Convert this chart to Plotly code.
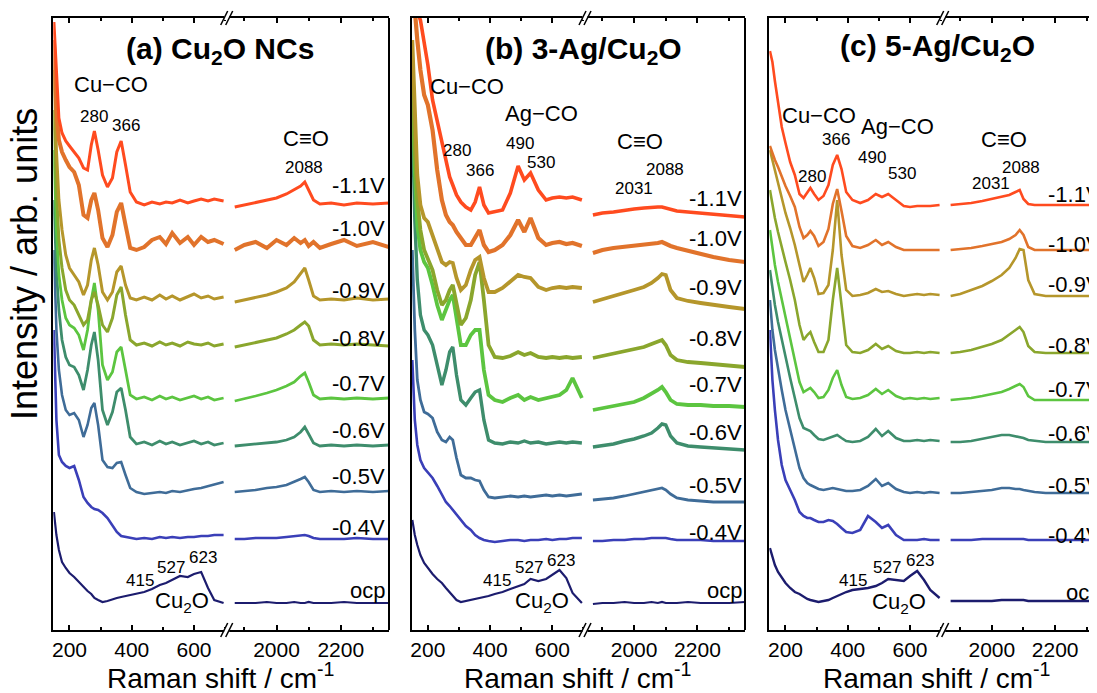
import plotly.graph_objects as go

# The page body has an 8 px margin, so the figure is offset by 8 px inside the 1097x693 window.
OFF = 8
W, H = 1097 - OFF, 693 - OFF

# ---------------- data (Raman shift in cm-1, intensity in arb. units incl. stacking offset) ----------------
X_LOW = [150, 158, 166, 176, 188, 200, 215, 230, 245, 258, 270, 280, 292, 306, 322, 338, 352,
         366, 380, 395, 415, 440, 465, 490, 510, 530, 555, 580, 600, 623, 645, 665, 695]
X_HIGH = [1870, 1900, 1935, 1970, 2000, 2031, 2055, 2075, 2088, 2100, 2115, 2135, 2170, 2210,
          2250, 2300, 2350]

POTENTIALS = ["ocp", "-0.4V", "-0.5V", "-0.6V", "-0.7V", "-0.8V", "-0.9V", "-1.0V", "-1.1V"]
COLORS = ["#1c1c6e", "#3a3fb8", "#3f6c98", "#3e8d6c", "#5cc540", "#8aa62d", "#b5962b",
          "#e1732b", "#ff4b1f"]

# (a) Cu2O NCs
CU2O_LOW = [
    [118, 95, 80, 68, 62, 57, 53, 48, 43, 39, 36, 32, 30, 28, 29, 31, 32, 33, 34, 35, 36, 38, 41, 45, 47, 50, 54, 53, 56, 58, 42, 30, 27],
    [300, 210, 175, 168, 164, 162, 164, 150, 133, 127, 123, 121, 120, 117, 112, 105, 98, 94, 93, 92, 91, 92, 91, 93, 92, 93, 92, 93, 93, 94, 94, 95, 95],
    [380, 300, 260, 235, 220, 215, 217, 210, 193, 205, 222, 227, 205, 170, 163, 162, 167, 168, 155, 142, 138, 136, 137, 138, 137, 139, 138, 140, 141, 142, 144, 146, 148],
    [430, 360, 320, 290, 273, 265, 263, 255, 240, 260, 285, 298, 270, 220, 205, 218, 238, 242, 220, 193, 186, 188, 185, 189, 186, 188, 185, 187, 189, 186, 188, 185, 187],
    [480, 400, 355, 330, 312, 305, 302, 295, 280, 300, 330, 347, 320, 265, 250, 258, 278, 283, 260, 235, 231, 233, 230, 234, 231, 233, 230, 232, 234, 231, 233, 230, 232],
    [520, 440, 390, 362, 340, 330, 325, 315, 305, 310, 330, 338, 325, 305, 298, 312, 335, 343, 315, 290, 285, 287, 284, 288, 285, 287, 284, 288, 286, 285, 287, 284, 286],
    [560, 480, 430, 400, 375, 362, 355, 348, 335, 345, 370, 382, 365, 338, 330, 338, 358, 364, 345, 332, 330, 333, 330, 335, 331, 334, 330, 333, 336, 332, 334, 331, 333],
    [590, 520, 490, 478, 470, 463, 458, 445, 415, 412, 430, 437, 420, 392, 383, 395, 418, 427, 405, 382, 380, 383, 390, 393, 386, 397, 387, 393, 385, 393, 388, 390, 386],
    [608, 560, 512, 497, 489, 484, 478, 472, 462, 460, 485, 499, 480, 455, 443, 452, 478, 489, 465, 438, 428, 425, 428, 426, 428, 427, 430, 427, 429, 431, 429, 431, 429],
]
CU2O_HIGH = [
    [27, 27, 27, 28, 27, 27, 28, 27, 27, 28, 27, 27, 27, 28, 27, 27, 27],
    [91, 91, 92, 92, 92, 93, 94, 95, 95, 94, 92, 91, 91, 91, 92, 91, 91],
    [138, 139, 140, 142, 143, 145, 148, 151, 153, 148, 140, 138, 139, 138, 139, 138, 139],
    [184, 185, 186, 187, 188, 190, 193, 198, 203, 196, 187, 184, 185, 184, 185, 184, 185],
    [229, 231, 234, 237, 240, 244, 248, 254, 257, 248, 235, 231, 232, 231, 232, 231, 232],
    [283, 285, 287, 290, 292, 296, 300, 305, 308, 304, 290, 285, 286, 285, 286, 285, 284],
    [328, 330, 333, 335, 338, 342, 348, 356, 362, 350, 334, 330, 331, 330, 332, 330, 331],
    [380, 385, 388, 382, 390, 385, 392, 387, 390, 384, 388, 382, 386, 390, 384, 388, 383],
    [423, 425, 427, 430, 432, 436, 440, 444, 448, 440, 430, 426, 427, 425, 427, 426, 427],
]

# (b) 3-Ag/Cu2O
AG3_LOW = [
    [110, 95, 85, 75, 67, 62, 56, 51, 47, 42, 38, 34, 30, 28, 29, 30, 31, 32, 33, 34, 36, 38, 41, 44, 46, 51, 49, 51, 55, 60, 52, 37, 27],
    [270, 210, 185, 170, 162, 158, 152, 144, 135, 128, 124, 120, 115, 110, 104, 100, 95, 92, 90, 89, 88, 89, 90, 90, 89, 90, 90, 91, 90, 91, 91, 92, 92],
    [380, 300, 250, 230, 218, 216, 212, 198, 190, 188, 193, 190, 172, 155, 152, 152, 150, 149, 140, 133, 132, 133, 134, 133, 134, 133, 134, 135, 134, 135, 134, 135, 136],
    [510, 410, 350, 315, 300, 295, 285, 265, 245, 260, 278, 283, 255, 230, 225, 232, 238, 240, 210, 190, 187, 186, 188, 187, 189, 187, 188, 186, 187, 188, 187, 188, 187],
    [550, 460, 405, 380, 368, 362, 345, 325, 310, 320, 330, 335, 310, 285, 285, 295, 300, 300, 260, 235, 230, 228, 232, 235, 230, 233, 230, 232, 234, 235, 240, 252, 232],
    [570, 480, 430, 400, 380, 372, 360, 340, 325, 330, 340, 345, 325, 305, 312, 330, 355, 368, 330, 285, 273, 272, 274, 278, 275, 277, 273, 272, 273, 272, 273, 272, 273],
    [590, 510, 455, 425, 412, 408, 395, 380, 368, 365, 368, 367, 352, 340, 345, 360, 370, 373, 352, 338, 338, 342, 348, 355, 353, 352, 343, 340, 342, 343, 342, 343, 342],
    [630, 620, 590, 560, 535, 525, 500, 460, 430, 415, 408, 405, 398, 392, 385, 385, 393, 400, 385, 378, 380, 385, 395, 410, 398, 412, 392, 385, 387, 388, 386, 387, 384],
    [630, 625, 618, 610, 588, 565, 530, 508, 490, 470, 453, 445, 435, 428, 423, 420, 428, 443, 425, 417, 418, 420, 437, 464, 450, 457, 440, 430, 432, 433, 432, 433, 430],
]
AG3_HIGH = [
    [26, 27, 27, 28, 27, 27, 28, 27, 28, 27, 27, 27, 28, 27, 27, 27, 28],
    [89, 89, 90, 90, 91, 91, 92, 92, 92, 92, 91, 90, 90, 90, 89, 89, 89],
    [130, 131, 132, 134, 136, 138, 140, 141, 142, 140, 136, 132, 130, 129, 128, 128, 128],
    [183, 184, 186, 189, 191, 194, 197, 202, 206, 205, 194, 187, 184, 183, 182, 181, 180],
    [220, 222, 224, 226, 228, 232, 236, 240, 243, 238, 230, 226, 225, 225, 224, 224, 223],
    [272, 274, 276, 278, 280, 283, 286, 289, 290, 285, 275, 270, 268, 267, 266, 265, 263],
    [328, 331, 334, 337, 340, 343, 347, 352, 356, 355, 340, 332, 329, 327, 325, 323, 321],
    [377, 380, 382, 383, 384, 385, 386, 387, 388, 386, 384, 382, 379, 376, 373, 370, 368],
    [415, 417, 418, 420, 421, 422, 423, 423, 423, 422, 421, 419, 418, 417, 416, 415, 413],
]

# (c) 5-Ag/Cu2O
AG5_LOW = [
    [82, 72, 65, 58, 53, 47, 42, 38, 36, 33, 31, 30, 29, 28, 29, 30, 32, 34, 36, 38, 40, 41, 42, 44, 47, 51, 50, 49, 54, 59, 50, 40, 32],
    [300, 250, 220, 190, 165, 150, 140, 130, 118, 114, 112, 112, 110, 108, 108, 110, 109, 106, 102, 98, 97, 100, 114, 108, 102, 105, 95, 90, 90, 90, 91, 90, 90],
    [330, 300, 280, 260, 240, 220, 200, 180, 162, 152, 147, 145, 143, 141, 140, 141, 142, 141, 140, 139, 139, 140, 144, 151, 144, 147, 141, 138, 137, 138, 137, 138, 137],
    [360, 340, 325, 308, 290, 272, 252, 232, 212, 202, 200, 199, 195, 191, 190, 192, 194, 195, 192, 189, 188, 189, 193, 201, 194, 199, 192, 189, 189, 190, 189, 190, 189],
    [400, 380, 365, 348, 330, 312, 292, 270, 248, 238, 240, 242, 238, 232, 233, 240, 252, 260, 245, 233, 231, 232, 235, 241, 236, 240, 234, 231, 232, 231, 232, 231, 232],
    [440, 425, 412, 398, 382, 368, 350, 330, 305, 290, 295, 298, 288, 278, 278, 290, 330, 362, 325, 285, 278, 277, 280, 286, 281, 284, 279, 277, 277, 278, 277, 278, 277],
    [480, 470, 460, 448, 432, 417, 402, 385, 365, 348, 355, 362, 352, 336, 337, 345, 380, 430, 375, 340, 334, 335, 337, 341, 338, 339, 336, 334, 335, 336, 335, 336, 335],
    [484, 476, 470, 463, 453, 444, 434, 423, 403, 392, 395, 399, 394, 384, 388, 401, 426, 441, 419, 394, 384, 382, 385, 390, 385, 388, 383, 380, 380, 380, 380, 380, 380],
    [579, 568, 549, 526, 503, 487, 468, 455, 436, 432, 438, 442, 436, 430, 434, 445, 465, 475, 461, 438, 430, 427, 430, 436, 433, 436, 430, 424, 423, 424, 424, 424, 425],
]
AG5_HIGH = [
    [29, 29, 29, 29, 29, 30, 30, 30, 30, 30, 29, 29, 29, 29, 29, 29, 29],
    [90, 90, 90, 91, 91, 91, 91, 91, 91, 91, 90, 90, 90, 90, 90, 90, 90],
    [137, 137, 138, 139, 140, 142, 142, 141, 141, 140, 139, 138, 137, 137, 137, 137, 137],
    [188, 188, 189, 191, 193, 195, 195, 194, 193, 192, 190, 189, 188, 188, 188, 188, 188],
    [230, 231, 232, 234, 236, 238, 241, 244, 246, 243, 234, 230, 230, 230, 230, 230, 230],
    [277, 278, 280, 283, 286, 290, 295, 300, 303, 298, 284, 278, 277, 277, 277, 277, 277],
    [334, 336, 340, 344, 349, 355, 362, 372, 381, 380, 350, 336, 334, 334, 334, 334, 334],
    [380, 381, 382, 384, 386, 388, 391, 395, 400, 395, 383, 380, 380, 380, 380, 380, 380],
    [425, 426, 427, 429, 431, 433, 435, 438, 440, 431, 426, 425, 425, 425, 425, 425, 425],
]

TICKS_LOW = [200, 400, 600]
TICKS_HIGH = [2000, 2200]
LOW_RANGE = [148, 705]
HIGH_RANGE = [1845, 2350]
Y_RANGE = [0, 612]

# line widths (noisier spectra look thicker in the original figure)
LINE_W = [
    [2.2, 2.6, 2.6, 2.8, 2.8, 3.0, 3.0, 4.0, 3.0],
    [2.2, 2.6, 2.8, 3.4, 3.8, 3.8, 3.8, 4.2, 3.6],
    [2.4, 2.6, 2.6, 2.6, 2.6, 2.6, 2.6, 2.6, 2.6],
]

# ---------------- layout helpers (positions given in window pixels) ----------------
FONT = "Arial, 'Liberation Sans', Helvetica, sans-serif"


def px(x):
    return (x - OFF) / W


def py(y):
    return 1 - (y - OFF) / H


Y_DOM = [py(630), py(18)]

PANELS = [
    dict(name="(a) Cu<sub>2</sub>O NCs", low=CU2O_LOW, high=CU2O_HIGH, left=53.3, brk=226.7, right=389.0,
         hr=HIGH_RANGE, cut=False),
    dict(name="(b) 3-Ag/Cu<sub>2</sub>O", low=AG3_LOW, high=AG3_HIGH, left=411.7, brk=585.0, right=745.0,
         hr=HIGH_RANGE, cut=False),
    dict(name="(c) 5-Ag/Cu<sub>2</sub>O", low=AG5_LOW, high=AG5_HIGH, left=769.3, brk=942.7, right=1097.0,
         hr=[1845, 2332], cut=True),
]

fig = go.Figure()
layout = dict(
    width=W, height=H, margin=dict(l=0, r=0, t=0, b=0, pad=0),
    paper_bgcolor="white", plot_bgcolor="white", showlegend=False,
    font=dict(family=FONT, color="black"),
)
shapes = []
annotations = []

xaxis_common = dict(showline=True, linewidth=2, linecolor="black", mirror="ticks", ticks="inside",
                    ticklen=5, tickwidth=1.5, tickcolor="black", showgrid=False, zeroline=False,
                    tickfont=dict(size=21, family=FONT, color="black"),
                    minor=dict(ticks="inside", dtick=100, ticklen=3, tickwidth=1.5, tickcolor="black"))

for i, p in enumerate(PANELS):
    xl = 2 * i + 1
    xh = 2 * i + 2
    yi = i + 1
    xl_name = "xaxis" if xl == 1 else f"xaxis{xl}"
    xh_name = f"xaxis{xh}"
    y_name = "yaxis" if yi == 1 else f"yaxis{yi}"
    xl_id = "x" if xl == 1 else f"x{xl}"
    xh_id = f"x{xh}"
    y_id = "y" if yi == 1 else f"y{yi}"

    layout[xl_name] = dict(xaxis_common, domain=[px(p["left"]), px(p["brk"])], range=LOW_RANGE,
                           tickvals=TICKS_LOW, anchor=y_id)
    layout[xh_name] = dict(xaxis_common, domain=[px(p["brk"]), min(1.0, px(p["right"]))], range=p["hr"],
                           tickvals=TICKS_HIGH, anchor=y_id)
    layout[y_name] = dict(domain=Y_DOM, range=Y_RANGE, anchor=xl_id, showline=True, linewidth=2,
                          linecolor="black", ticks="", showticklabels=False, showgrid=False,
                          zeroline=False)

    for k, pot in enumerate(POTENTIALS):
        lw = LINE_W[i][k]
        fig.add_trace(go.Scatter(x=X_LOW, y=p["low"][k], mode="lines", xaxis=xl_id, yaxis=y_id,
                                 line=dict(color=COLORS[k], width=lw), hoverinfo="skip"))
        fig.add_trace(go.Scatter(x=X_HIGH, y=p["high"][k], mode="lines", xaxis=xh_id, yaxis=y_id,
                                 line=dict(color=COLORS[k], width=lw), hoverinfo="skip"))

    if not p["cut"]:
        shapes.append(dict(type="line", xref="paper", yref="paper", x0=px(p["right"]), x1=px(p["right"]),
                           y0=py(630), y1=py(18), line=dict(color="black", width=2)))
    bx = p["brk"]
    for yy in (630, 18):
        shapes.append(dict(type="line", xref="paper", yref="paper", x0=px(bx - 2.5), x1=px(bx + 2.5),
                           y0=py(yy), y1=py(yy), line=dict(color="white", width=4)))
        for d in (-2.5, 2.5):
            shapes.append(dict(type="line", xref="paper", yref="paper",
                               x0=px(bx + d - 3.5), x1=px(bx + d + 3.5),
                               y0=py(yy + 7), y1=py(yy - 7), line=dict(color="black", width=1.5)))

    center = (p["left"] + (p["right"] if not p["cut"] else 1105.5)) / 2
    annotations.append(dict(text="Raman shift / cm<sup>-1</sup>", xref="paper", yref="paper",
                            x=px(center), y=py(676), xanchor="center", yanchor="middle", showarrow=False,
                            font=dict(size=28, family=FONT, color="black")))


def txt(s, x, y, size, bold=False, xanchor="center"):
    annotations.append(dict(text=f"<b>{s}</b>" if bold else s, xref="paper", yref="paper",
                            x=px(x), y=py(y), xanchor=xanchor, yanchor="middle", showarrow=False,
                            font=dict(size=size, family=FONT, color="black")))


# titles
txt(PANELS[0]["name"], 220, 50, 30, bold=True)
txt(PANELS[1]["name"], 583, 50, 30, bold=True)
txt(PANELS[2]["name"], 937, 47, 30, bold=True)

GROUP = 22
NUM = 17
# panel a
txt("Cu\u2212CO", 111, 85, GROUP)
txt("280", 94, 117, NUM)
txt("366", 126, 125, NUM)
txt("C\u2261O", 306, 138, GROUP)
txt("2088", 304, 167, NUM)
txt("415", 140, 580, NUM)
txt("527", 171, 567, NUM)
txt("623", 203, 557, NUM)
txt("Cu<sub>2</sub>O", 182, 602, GROUP)
# panel b
txt("Cu\u2212CO", 467, 86, GROUP)
txt("Ag\u2212CO", 541, 113, GROUP)
txt("280", 457, 150, NUM)
txt("366", 480, 170, NUM)
txt("490", 520, 143, NUM)
txt("530", 541, 162, NUM)
txt("C\u2261O", 640, 141, GROUP)
txt("2088", 665, 169, NUM)
txt("2031", 634, 188, NUM)
txt("415", 497, 580, NUM)
txt("527", 529, 567, NUM)
txt("623", 561, 560, NUM)
txt("Cu<sub>2</sub>O", 542, 602, GROUP)
# panel c
txt("Cu\u2212CO", 819, 115, GROUP)
txt("Ag\u2212CO", 897, 126, GROUP)
txt("366", 836, 140, NUM)
txt("280", 812, 176, NUM)
txt("490", 872, 158, NUM)
txt("530", 902, 173, NUM)
txt("C\u2261O", 1004, 139, GROUP)
txt("2088", 1021, 167, NUM)
txt("2031", 991, 183, NUM)
txt("415", 853, 580, NUM)
txt("527", 887, 567, NUM)
txt("623", 920, 560, NUM)
txt("Cu<sub>2</sub>O", 899, 603, GROUP)

LABEL_Y = [
    [590, 527, 476, 430, 383, 338, 290, 228, 185],
    [590, 532, 485, 432, 384, 338, 288, 238, 198],
    [592, 535, 486, 433, 389, 345, 284, 244, 195],
]
LABEL_RIGHT = [387, 744, 1103]
for i in range(3):
    for k, pot in enumerate(POTENTIALS):
        txt(pot, LABEL_RIGHT[i], LABEL_Y[i][k], 22, xanchor="right")

annotations.append(dict(text="Intensity / arb. units", xref="paper", yref="paper", x=px(24), y=py(264),
                        xanchor="center", yanchor="middle", textangle=-90, showarrow=False,
                        font=dict(size=36, family=FONT, color="black")))

layout["shapes"] = shapes
layout["annotations"] = annotations
fig.update_layout(**layout)
fig.write_html("out.html")
